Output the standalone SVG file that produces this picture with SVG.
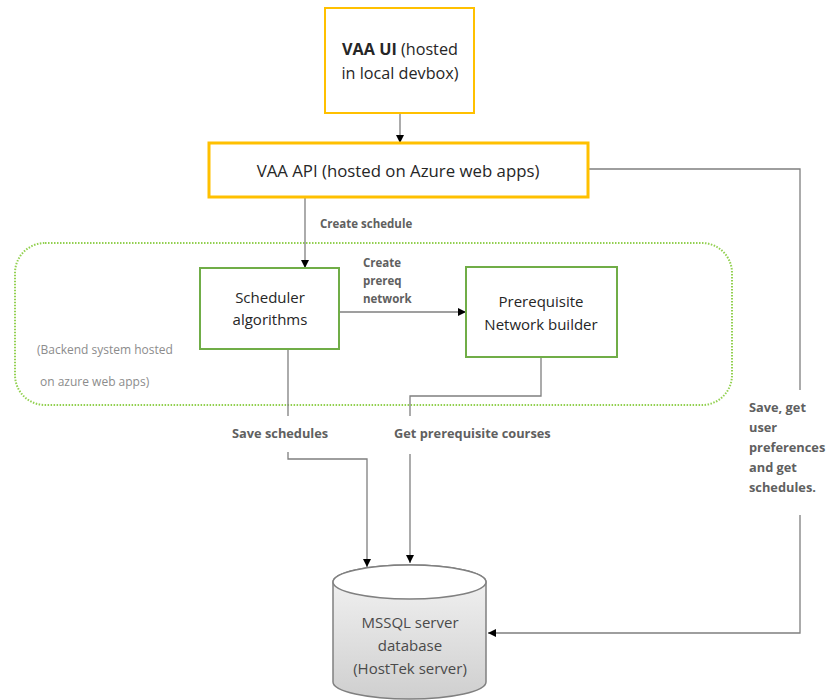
<svg xmlns="http://www.w3.org/2000/svg" width="826" height="700" viewBox="0 0 826 700">
<defs>
<style>
.box{font-family:"Open Sans","Liberation Sans",sans-serif;font-size:15px;fill:#262626;text-anchor:middle}
.lbl{font-family:"Open Sans","Liberation Sans",sans-serif;font-size:11.5px;font-weight:bold;fill:#606060}
.lb2{font-family:"Open Sans","Liberation Sans",sans-serif;font-size:12.8px;font-weight:bold;fill:#606060}
.bk{font-family:"Open Sans","Liberation Sans",sans-serif;font-size:12px;fill:#8c8c8c}
.ln{fill:none;stroke:#7f7f7f;stroke-width:1.3}
.yl{fill:#fff;stroke:#FFC000}
.gr{fill:#fff;stroke:#70AD47;stroke-width:2}
</style>
<marker id="ah" viewBox="0 0 10 10" refX="10" refY="5" markerWidth="8" markerHeight="8" markerUnits="userSpaceOnUse" orient="auto">
<path d="M0,0 L10,5 L0,10 z" fill="#000"/>
</marker>
<linearGradient id="dbg" x1="0" y1="0" x2="0" y2="1">
<stop offset="0" stop-color="#f4f4f4"/>
<stop offset="1" stop-color="#cfcfcf"/>
</linearGradient>
</defs>
<rect width="826" height="700" fill="#fff"/>
<g id="backend">
<rect x="15" y="243" width="717" height="162" rx="30" ry="30" fill="none" stroke="#92D050" stroke-width="2" stroke-dasharray="1.5 1.5"/>
<text class="bk" x="37" y="354">(Backend system hosted</text>
<text class="bk" x="40" y="386">on azure web apps)</text>
</g>
<g id="connectors">
<path class="ln" d="M400,113 V143" marker-end="url(#ah)"/>
<path class="ln" d="M305,197 V268" marker-end="url(#ah)"/>
<text class="lbl" x="320" y="228">Create schedule</text>
<path class="ln" d="M339,312 H466" marker-end="url(#ah)"/>
<text class="lbl" x="363" y="267">Create</text>
<text class="lbl" x="363" y="285">prereq</text>
<text class="lbl" x="363" y="303">network</text>
<path class="ln" d="M288,349 V416"/>
<text class="lb2" x="232" y="438">Save schedules</text>
<path class="ln" d="M288,452 V459 H367 V567" marker-end="url(#ah)"/>
<path class="ln" d="M541,357 V396 H410 V416"/>
<text class="lb2" x="394" y="438">Get prerequisite courses</text>
<path class="ln" d="M410,454 V563" marker-end="url(#ah)"/>
<path class="ln" d="M588,169 H800 V390"/>
<text class="lb2" x="749" y="412">Save, get</text>
<text class="lb2" x="749" y="432">user</text>
<text class="lb2" x="749" y="452">preferences</text>
<text class="lb2" x="749" y="472">and get</text>
<text class="lb2" x="749" y="492">schedules.</text>
<path class="ln" d="M800,515 V633 H488" marker-end="url(#ah)"/>
</g>
<g id="vaa-ui">
<rect class="yl" x="325" y="8" width="149" height="105" stroke-width="2"/>
<text class="box" x="400" y="55" style="font-size:16.2px"><tspan font-weight="bold">VAA UI</tspan> (hosted</text>
<text class="box" x="400" y="79" style="font-size:16.2px">in local devbox)</text>
</g>
<g id="vaa-api">
<rect class="yl" x="209" y="143" width="379" height="54" stroke-width="3"/>
<text class="box" x="398" y="177" style="font-size:16.8px">VAA API (hosted on Azure web apps)</text>
</g>
<g id="scheduler">
<rect class="gr" x="200" y="268" width="139" height="81"/>
<text class="box" x="270" y="303">Scheduler</text>
<text class="box" x="270" y="325">algorithms</text>
</g>
<g id="prereq">
<rect class="gr" x="466" y="267" width="151" height="90"/>
<text class="box" x="541" y="307">Prerequisite</text>
<text class="box" x="541" y="330">Network builder</text>
</g>
<g id="database">
<path d="M333,582 V682 A76.5,17 0 0 0 486,682 V582 A76.5,17 0 0 0 333,582 z" fill="url(#dbg)" stroke="#808080" stroke-width="1.5"/>
<ellipse cx="409.5" cy="582" rx="76.5" ry="17" fill="#fff" stroke="#808080" stroke-width="1.5"/>
<text class="box" x="410" y="628" style="fill:#4a4a4a">MSSQL server</text>
<text class="box" x="410" y="651" style="fill:#4a4a4a">database</text>
<text class="box" x="410" y="674" style="fill:#4a4a4a">(HostTek server)</text>
</g>
</svg>
